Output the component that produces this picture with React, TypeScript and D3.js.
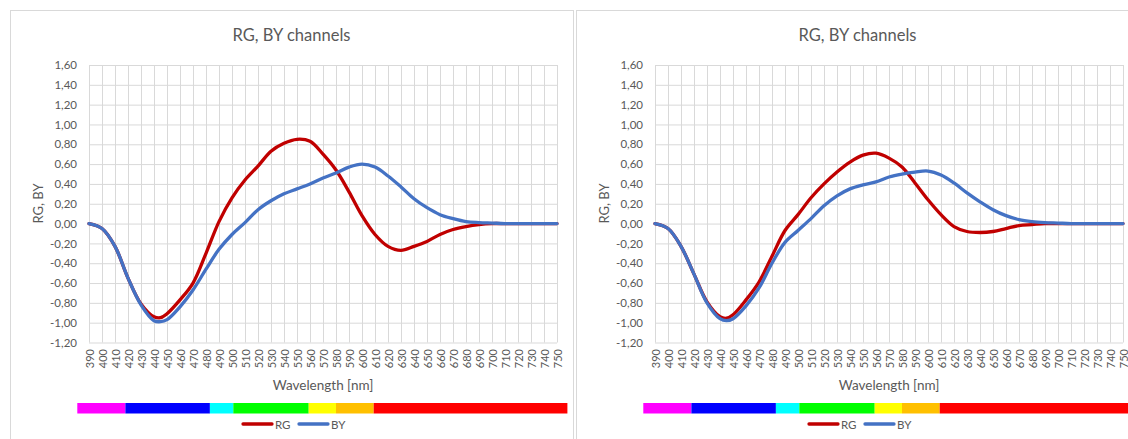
import React, { useEffect, useRef } from 'react';
import * as d3 from 'd3';

// wavelength samples [nm]
const wavelengths = [390, 400, 410, 420, 430, 440, 445, 450, 460, 470, 480, 490, 500, 510, 520, 530, 540, 550, 560, 570, 580, 590, 600, 610, 620, 630, 640, 650, 660, 670, 680, 690, 700, 710, 720, 730, 740, 750];

// left chart
const rgLeft = [0, -0.05, -0.23, -0.55, -0.81, -0.94, -0.95, -0.91, -0.77, -0.6, -0.3, 0.02, 0.26, 0.44, 0.58, 0.73, 0.81, 0.85, 0.83, 0.7, 0.54, 0.32, 0.08, -0.11, -0.23, -0.27, -0.23, -0.18, -0.11, -0.06, -0.03, -0.01, 0, 0, 0, 0, 0, 0];
const byLeft = [0, -0.05, -0.23, -0.55, -0.82, -0.98, -0.99, -0.97, -0.84, -0.67, -0.46, -0.26, -0.11, 0.01, 0.14, 0.23, 0.3, 0.35, 0.4, 0.46, 0.51, 0.57, 0.6, 0.57, 0.48, 0.37, 0.25, 0.16, 0.09, 0.05, 0.02, 0.01, 0.005, 0, 0, 0, 0, 0];

// right chart
const rgRight = [0, -0.05, -0.23, -0.51, -0.79, -0.94, -0.955, -0.92, -0.77, -0.59, -0.33, -0.07, 0.09, 0.26, 0.4, 0.52, 0.62, 0.69, 0.71, 0.66, 0.57, 0.41, 0.24, 0.09, -0.03, -0.08, -0.09, -0.08, -0.05, -0.02, -0.01, 0, 0, 0, 0, 0, 0, 0];
const byRight = [0, -0.05, -0.23, -0.51, -0.8, -0.96, -0.98, -0.96, -0.83, -0.65, -0.4, -0.19, -0.07, 0.05, 0.18, 0.28, 0.35, 0.39, 0.42, 0.47, 0.5, 0.52, 0.53, 0.49, 0.41, 0.31, 0.22, 0.14, 0.08, 0.04, 0.02, 0.01, 0.005, 0, 0, 0, 0, 0];

const xTicks = d3.range(390, 751, 10);
const yTicks = [-1.2, -1.0, -0.8, -0.6, -0.4, -0.2, 0, 0.2, 0.4, 0.6, 0.8, 1.0, 1.2, 1.4, 1.6];

// spectrum strip under the axis
const bandEdges = [381, 418, 483, 501, 559, 580, 609, 758];
const bandColors = ['#FF00FF', '#0000FF', '#00FFFF', '#00FF00', '#FFFF00', '#FFC000', '#FF0000'];

const FONT = 'Lato, "Liberation Sans", Arial, sans-serif';
const TXT = '#595959';
const GRID = '#D9D9D9';
const RED = '#C00000';
const BLUE = '#4472C4';

function drawChart(svg: any, offsetX: number, rg: number[], by: number[]) {
  const g = svg.append('g').attr('transform', `translate(${offsetX},0)`);

  g.append('rect')
    .attr('x', 10.5).attr('y', 10.5)
    .attr('width', 563).attr('height', 440)
    .attr('fill', '#fff').attr('stroke', GRID);

  const x = d3.scaleLinear().domain([390, 750]).range([89, 557]);
  const y = d3.scaleLinear().domain([-1.2, 1.6]).range([342.5, 65]);
  const w = 557 - 89;
  const h = 342.5 - 65;

  g.append('text')
    .attr('x', 291.5).attr('y', 35)
    .attr('text-anchor', 'middle').attr('dominant-baseline', 'central')
    .attr('font-size', 16.5).attr('fill', TXT)
    .text('RG, BY channels');

  // vertical grid
  g.append('g')
    .attr('transform', `translate(0,${y(-1.2)})`)
    .call(d3.axisBottom(x).tickValues(xTicks).tickSize(-h).tickFormat(() => ''))
    .call((a: any) => a.select('.domain').remove())
    .call((a: any) => a.selectAll('line').attr('stroke', GRID));

  // horizontal grid + labels
  g.append('g')
    .attr('transform', `translate(${x(390)},0)`)
    .call(d3.axisLeft(y).tickValues(yTicks).tickSize(-w).tickPadding(12)
      .tickFormat((d: any) => d3.format('.2f')(d).replace('.', ',').replace('−', '-')))
    .call((a: any) => a.select('.domain').remove())
    .call((a: any) => a.selectAll('line').attr('stroke', GRID))
    .call((a: any) => a.selectAll('text').attr('fill', TXT).attr('font-size', 11.5).attr('font-family', FONT));

  // rotated wavelength labels
  g.append('g').selectAll('text')
    .data(xTicks)
    .join('text')
    .attr('transform', (d: number) => `translate(${x(d)},349) rotate(-90)`)
    .attr('text-anchor', 'end')
    .attr('dominant-baseline', 'central')
    .attr('font-size', 11).attr('fill', TXT)
    .text((d: number) => d);

  g.append('text')
    .attr('transform', 'translate(38,203.5) rotate(-90)')
    .attr('text-anchor', 'middle').attr('dominant-baseline', 'central')
    .attr('font-size', 13).attr('fill', TXT)
    .text('RG, BY');

  g.append('text')
    .attr('x', (x(390) + x(750)) / 2).attr('y', 385)
    .attr('text-anchor', 'middle').attr('dominant-baseline', 'central')
    .attr('font-size', 13.5).attr('fill', TXT)
    .text('Wavelength [nm]');

  const line = (vals: number[]) => d3.line<number>()
    .x((_, i) => x(wavelengths[i]))
    .y(d => y(d))
    .curve(d3.curveCatmullRom.alpha(0.5))(vals);

  g.append('path').attr('d', line(rg)).attr('fill', 'none')
    .attr('stroke', RED).attr('stroke-width', 3.3).attr('stroke-linejoin', 'round').attr('stroke-linecap', 'round');
  g.append('path').attr('d', line(by)).attr('fill', 'none')
    .attr('stroke', BLUE).attr('stroke-width', 3.3).attr('stroke-linejoin', 'round').attr('stroke-linecap', 'round');

  // spectrum strip
  g.append('g').selectAll('rect')
    .data(bandColors)
    .join('rect')
    .attr('x', (_: string, i: number) => x(bandEdges[i]))
    .attr('width', (_: string, i: number) => x(bandEdges[i + 1]) - x(bandEdges[i]))
    .attr('y', 403).attr('height', 10.5)
    .attr('fill', (d: string) => d);

  // legend
  const legend = [{ name: 'RG', color: RED, x0: 243 }, { name: 'BY', color: BLUE, x0: 299 }];
  const lg = g.append('g').selectAll('g').data(legend).join('g');
  lg.append('line')
    .attr('x1', (d: any) => d.x0).attr('x2', (d: any) => d.x0 + 29)
    .attr('y1', 424).attr('y2', 424)
    .attr('stroke', (d: any) => d.color).attr('stroke-width', 3.3).attr('stroke-linecap', 'round');
  lg.append('text')
    .attr('x', (d: any) => d.x0 + 32).attr('y', 424)
    .attr('dominant-baseline', 'central')
    .attr('font-size', 11.5).attr('fill', TXT)
    .text((d: any) => d.name);
}

export default function App() {
  const ref = useRef<SVGSVGElement>(null);

  useEffect(() => {
    document.body.style.margin = '0';
    const svg = d3.select(ref.current);
    svg.selectAll('*').remove();
    svg.append('rect').attr('width', 1128).attr('height', 439).attr('fill', '#fff');
    drawChart(svg, 0, rgLeft, byLeft);
    drawChart(svg, 566, rgRight, byRight);
  }, []);

  return (
    <svg ref={ref} width={1128} height={439} style={{ display: 'block', fontFamily: FONT }} />
  );
}
